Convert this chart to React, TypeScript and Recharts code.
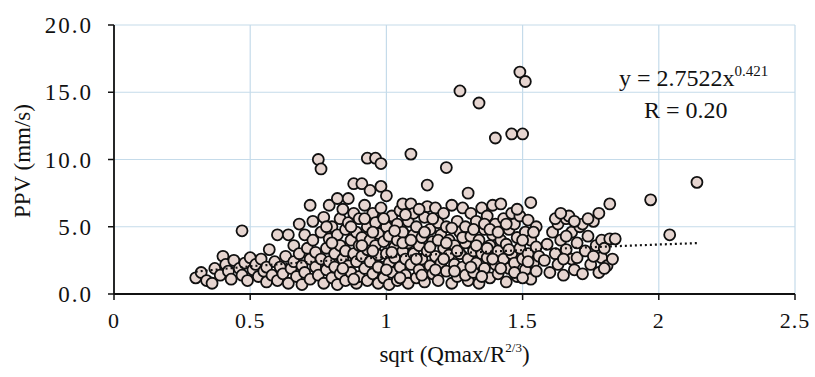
import React from "react";
import {
  ScatterChart,
  Scatter,
  XAxis,
  YAxis,
  CartesianGrid,
  Customized,
} from "recharts";

// Measured points [sqrt(Qmax/R^(2/3)), PPV mm/s]
const regionA: number[][] = [
  [0.30,1.2],[0.32,1.6],[0.34,1.0],[0.36,0.8],[0.37,1.9],[0.39,1.4],[0.40,2.8],[0.41,2.2],
  [0.42,1.7],[0.43,1.1],[0.44,2.5],[0.46,1.9],[0.47,4.7],[0.47,1.4],[0.48,2.3],[0.49,1.0],
  [0.50,2.7],[0.51,1.8],[0.52,2.2],[0.53,1.3],[0.54,2.6],[0.55,1.7],[0.56,0.9],[0.56,2.0],
  [0.57,3.3],[0.58,1.4],[0.59,2.4],[0.60,4.4],[0.60,1.0],[0.61,2.0],[0.62,1.5],
];
const regionB: number[][] = [
  [0.63,2.8],[0.64,4.4],[0.64,0.8],[0.65,1.9],[0.66,2.4],[0.66,3.6],[0.67,1.3],[0.68,5.2],
  [0.68,3.0],[0.69,2.1],[0.69,0.7],[0.70,4.4],[0.70,1.6],[0.71,3.4],[0.72,6.6],[0.72,2.6],
  [0.72,1.1],[0.73,4.0],[0.73,5.4],[0.74,2.0],[0.74,3.1],[0.75,10.0],[0.75,1.4],[0.76,9.3],
  [0.76,4.6],[0.76,2.6],[0.77,0.8],[0.77,5.7],[0.78,3.4],[0.78,1.8],[0.79,6.6],[0.79,4.1],
  [0.79,2.4],[0.80,5.0],[0.80,1.2],[0.81,3.0],[0.81,2.0],[0.82,7.1],[0.82,4.4],[0.82,0.7],
  [0.83,5.6],[0.83,3.6],[0.83,1.5],[0.84,2.6],[0.84,6.3],[0.85,4.8],[0.85,3.2],[0.85,1.0],
  [0.86,7.1],[0.86,2.1],[0.86,5.3],[0.87,4.0],[0.87,1.6],[0.88,8.2],[0.88,3.0],[0.88,6.0],
  [0.89,2.4],[0.89,4.6],[0.89,0.8],[0.90,3.6],[0.90,5.6],[0.90,1.3],
  [0.78,5.0],[0.80,3.8],[0.84,1.9],[0.87,5.0],[0.88,1.1],
];
const regionC: number[][] = [
  [0.91,8.2],[0.91,2.8],[0.91,4.2],[0.92,6.6],[0.92,1.9],[0.93,10.1],[0.93,5.0],[0.93,3.3],
  [0.93,1.0],[0.94,7.7],[0.94,2.4],[0.94,4.0],[0.95,6.0],[0.95,1.5],[0.96,10.1],[0.96,3.6],
  [0.96,5.3],[0.97,2.9],[0.97,0.8],[0.97,4.5],[0.98,9.7],[0.98,8.0],[0.98,2.0],[0.98,6.4],
  [0.99,3.9],[0.99,1.2],[1.00,7.3],[1.00,5.0],[1.00,3.0],[1.01,2.3],[1.01,4.3],[1.01,0.7],
  [1.02,5.8],[1.02,1.6],[1.03,3.5],[1.03,2.7],[1.04,5.2],[1.04,1.0],[1.04,4.0],[1.05,6.2],
  [1.05,2.0],[1.06,6.7],[1.06,3.2],[1.06,4.6],[1.07,1.4],[1.07,2.6],[1.08,5.4],[1.08,3.8],
  [1.08,0.8],[1.09,10.4],[1.09,6.7],[1.09,2.2],[1.10,4.4],[1.10,6.0],[1.10,3.0],[1.11,1.2],
  [1.11,5.0],[1.12,3.6],[1.12,1.8],[1.13,2.6],[1.13,4.2],[1.14,5.7],[1.14,0.9],[1.15,8.1],
  [1.15,3.2],[1.15,6.5],[1.16,2.1],[1.16,4.8],[1.17,1.5],[1.17,3.9],[1.18,6.4],[1.18,2.8],
  [1.19,5.3],[1.19,1.0],[1.20,4.4],[1.20,2.3],[1.21,3.4],[1.21,6.0],[1.22,9.4],[1.22,1.7],
  [1.22,5.0],[1.23,2.9],[1.23,4.0],[1.24,0.8],[1.24,6.6],[1.25,3.6],[1.25,2.2],[1.26,5.4],
  [1.26,1.3],[1.27,4.6],[1.27,15.1],[1.27,3.0],[1.28,6.4],[1.28,2.0],[1.29,3.8],[1.29,5.0],
  [1.30,7.5],[1.30,1.0],[1.30,2.6],
  [0.91,3.6],[0.92,5.6],[0.95,3.2],[0.95,4.6],[0.97,2.0],[0.99,5.6],[1.00,1.8],[1.02,3.1],
  [1.03,4.7],[1.05,1.2],[1.06,3.8],[1.07,5.9],[1.09,4.0],[1.11,2.6],[1.12,6.3],[1.13,1.4],
  [1.14,4.6],[1.16,3.5],[1.17,5.6],[1.18,1.8],[1.19,4.0],[1.21,2.6],[1.22,3.8],[1.24,4.9],
  [1.25,1.7],[1.26,3.2],[1.28,4.2],[1.29,1.4],
];
const regionD: number[][] = [
  [1.31,4.3],[1.31,6.0],[1.32,3.2],[1.32,1.6],[1.33,5.4],[1.33,2.3],[1.34,14.2],[1.34,4.0],
  [1.34,0.8],[1.35,6.4],[1.35,3.0],[1.36,1.9],[1.36,4.8],[1.37,2.7],[1.37,5.8],[1.38,3.6],
  [1.38,1.2],[1.39,4.4],[1.39,6.6],[1.40,11.6],[1.40,2.2],[1.40,5.2],[1.41,3.2],[1.41,1.5],
  [1.42,6.7],[1.42,4.0],[1.43,2.6],[1.43,5.6],[1.44,0.9],[1.44,3.7],[1.45,4.8],[1.45,1.9],
  [1.46,11.9],[1.46,6.0],[1.46,3.0],[1.47,2.3],[1.47,5.2],[1.48,4.2],[1.48,1.3],[1.49,16.5],
  [1.49,3.4],[1.49,5.8],[1.50,11.9],[1.50,2.6],[1.51,15.8],[1.51,4.6],[1.51,1.8],[1.52,5.5],
  [1.52,3.0],[1.53,6.8],[1.53,1.1],[1.53,4.0],[1.54,2.3],[1.55,3.5],[1.55,5.0],
  [1.31,2.0],[1.32,4.8],[1.33,3.6],[1.35,1.3],[1.36,5.2],[1.37,3.4],[1.38,4.8],[1.39,2.6],
  [1.41,4.6],[1.42,1.9],[1.44,5.2],[1.45,3.3],[1.47,1.6],[1.48,6.3],[1.50,4.0],[1.50,1.2],
  [1.52,2.4],[1.54,4.6],[1.55,1.7],[1.56,2.8],
];
const regionE: number[][] = [
  [1.58,2.5],[1.59,3.7],[1.60,1.6],[1.61,4.6],[1.62,3.0],[1.63,5.2],[1.63,2.2],[1.64,4.0],
  [1.65,1.4],[1.66,5.6],[1.66,3.3],[1.67,5.8],[1.68,2.6],[1.68,4.6],[1.69,1.8],[1.70,2.7],
  [1.70,3.8],[1.71,5.0],[1.72,5.2],[1.72,1.5],[1.73,3.2],[1.74,4.3],[1.75,2.2],[1.76,5.4],
  [1.77,3.6],[1.78,6.0],[1.78,1.6],[1.79,4.0],[1.79,2.7],[1.80,3.4],[1.81,2.1],[1.82,6.7],
  [1.82,4.1],[1.83,2.6],[1.84,4.1],[1.97,7.0],[2.04,4.4],[2.14,8.3],
  [1.62,5.6],[1.64,6.0],[1.66,4.3],[1.69,5.4],[1.74,5.6],[1.76,2.8],[1.80,1.9],[1.65,2.6],
];

// Trend line
const trendX = [0.30, 0.50, 0.75, 1.00, 1.25, 1.50, 1.75, 2.00, 2.15];
const trendY = [1.66, 2.06, 2.43, 2.75, 3.03, 3.26, 3.48, 3.68, 3.79];

const xTicks = [0, 0.5, 1, 1.5, 2, 2.5];
const yTicks = [0, 5, 10, 15, 20];

const points = [...regionA, ...regionB, ...regionC, ...regionD, ...regionE].map(
  ([x, y]) => ({ x, y })
);
const trend = trendX.map((x, i) => ({ x, y: trendY[i] }));

const FONT = "'Liberation Serif', 'Times New Roman', serif";

const Dot = (props: any) => {
  const { cx, cy } = props;
  if (cx == null || cy == null) return null;
  return (
    <circle cx={cx} cy={cy} r={5.5} fill="#e6d5d0" stroke="#101010" strokeWidth={1.8} />
  );
};

const Equation = () => (
  <g fontFamily={FONT} fill="#111">
    <text x={619} y={86} fontSize={24}>
      y = 2.7522x
      <tspan fontSize={15} dy={-10}>0.421</tspan>
    </text>
    <text x={644} y={118} fontSize={24}>
      R = 0.20
    </text>
  </g>
);

const XTitle = (props: any) => {
  const vb = props.viewBox || {};
  const cx = vb.x + vb.width / 2;
  return (
    <text x={cx} y={362} textAnchor="middle" fontFamily={FONT} fontSize={23} fill="#111">
      sqrt (Qmax/R
      <tspan fontSize={13} dy={-10}>2/3</tspan>
      <tspan dy={10}>)</tspan>
    </text>
  );
};

const YTitle = () => (
  <text
    x={30}
    y={161}
    transform="rotate(-90 30 161)"
    textAnchor="middle"
    fontFamily={FONT}
    fontSize={23}
    fill="#111"
  >
    PPV (mm/s)
  </text>
);

export default function App() {
  return (
    <div style={{ position: "absolute", left: 0, top: 0, width: 815, height: 377, background: "#fff" }}>
      <ScatterChart
        width={815}
        height={377}
        margin={{ top: 25, right: 20, bottom: 0, left: 0 }}
      >
        <CartesianGrid stroke="#c5dbea" strokeWidth={1.2} />
        <XAxis
          type="number"
          dataKey="x"
          domain={[0, 2.5]}
          ticks={xTicks}
          interval={0}
          height={83}
          tickSize={6}
          tickMargin={12}
          axisLine={{ stroke: "#111", strokeWidth: 1.8 }}
          tickLine={{ stroke: "#111", strokeWidth: 1.5 }}
          tick={{ fontFamily: FONT, fontSize: 22, fill: "#111", letterSpacing: 1 }}
          label={<XTitle />}
        />
        <YAxis
          type="number"
          dataKey="y"
          domain={[0, 20]}
          ticks={yTicks}
          interval={0}
          width={114}
          tickSize={6}
          tickMargin={15}
          tickFormatter={(v: number) => v.toFixed(1)}
          axisLine={{ stroke: "#111", strokeWidth: 1.8 }}
          tickLine={{ stroke: "#111", strokeWidth: 1.5 }}
          tick={{ fontFamily: FONT, fontSize: 23, fill: "#111", letterSpacing: 2 }}
          label={<YTitle />}
        />
        <Scatter data={points} shape={<Dot />} isAnimationActive={false} />
        <Scatter
          data={trend}
          line={{ stroke: "#111", strokeWidth: 2.2, strokeDasharray: "2 3" }}
          shape={() => null}
          isAnimationActive={false}
        />
        <Customized component={Equation} />
      </ScatterChart>
    </div>
  );
}
